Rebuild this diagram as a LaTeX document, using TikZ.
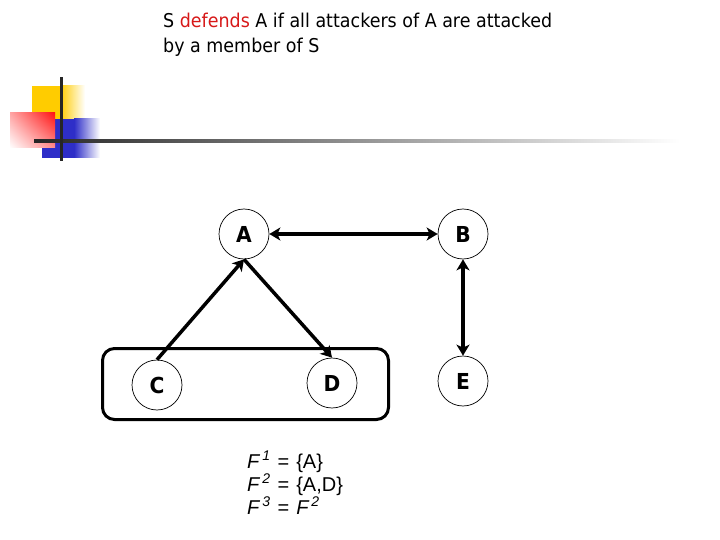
\documentclass[tikz,border=0pt]{standalone}
\usepackage{fontspec}
\setmainfont{DejaVu Sans}[FakeStretch=0.92]
\newfontfamily\arialfont{Liberation Sans}
\usetikzlibrary{arrows.meta,shadings}
\definecolor{logoyellow}{RGB}{255,204,0}
\definecolor{logoblue}{RGB}{46,46,200}
\definecolor{logored}{RGB}{255,20,20}
\definecolor{defred}{RGB}{215,25,25}
\tikzset{
  vtx/.style={circle, draw, line width=0.7pt, minimum size=50pt, inner sep=0pt,
    font=\fontsize{22}{26}\selectfont\bfseries},
  attack/.style={line width=3.5pt, -{Stealth[length=11pt,width=13pt,inset=3pt]}},
  mutual/.style={line width=3.5pt, {Stealth[length=11pt,width=13pt,inset=3pt]}-{Stealth[length=11pt,width=13pt,inset=3pt]}},
  ttl/.style={anchor=base west, inner sep=0pt, font=\fontsize{19}{23}\selectfont},
  fline/.style={anchor=base west, inner sep=0pt, font=\arialfont\fontsize{20}{24}\selectfont}
}
\newcommand{\supi}[1]{\textsuperscript{\kern2pt\itshape #1}}
\newcommand{\eqgap}{\hspace{7pt}=\hspace{7pt}}
\begin{document}
\begin{tikzpicture}[x=1pt,y=-1pt]
\useasboundingbox (0,0) rectangle (720,540);
% logo
\fill[logoyellow] (32,86) rectangle (60,120);
\shade[left color=logoyellow, right color=white] (60,86) rectangle (85,120);
\fill[logoblue] (42,119) rectangle (74,158);
\shade[left color=logoblue, right color=white] (74,119) rectangle (100,158);
\shade[upper right=logored, upper left=red!35, lower left=white, lower right=red!45] (10,113) rectangle (55,148);
\shade[left color=black!85, right color=white] (34,139.5) rectangle (680,142.5);
\fill[black!85] (59.5,77) rectangle (62.5,161);
% title
\node[ttl] (t1) at (163,28) {S \textcolor{defred}{defends} A if all attackers of A are attacked};
\node[ttl] (t2) at (163,53) {by a member of S};
% group box
\node[draw, line width=3pt, rounded corners=12pt, minimum width=286pt, minimum height=71pt, inner sep=0pt] (grp) at (245.5,384) {};
% vertices
\node[vtx] (A) at (244,234) {A};
\node[vtx] (B) at (463,234) {B};
\node[vtx] (C) at (157,385) {C};
\node[vtx] (D) at (332,383) {D};
\node[vtx] (E) at (463,381) {E};
% edges
\draw[attack] (C.north) -- (A.south);
\draw[attack] (A.south) -- (D.north);
\draw[mutual] (A.east) -- (B.west);
\draw[mutual] (B.south) -- (E.north);
% F lines
\node[fline] (f1) at (247,468) {\textit{F}\supi{1}\eqgap\{A\}};
\node[fline] (f2) at (247,491) {\textit{F}\supi{2}\eqgap\{A,D\}};
\node[fline] (f3) at (247,514) {\textit{F}\supi{3}\eqgap\textit{F}\supi{2}};
\end{tikzpicture}
\end{document}
